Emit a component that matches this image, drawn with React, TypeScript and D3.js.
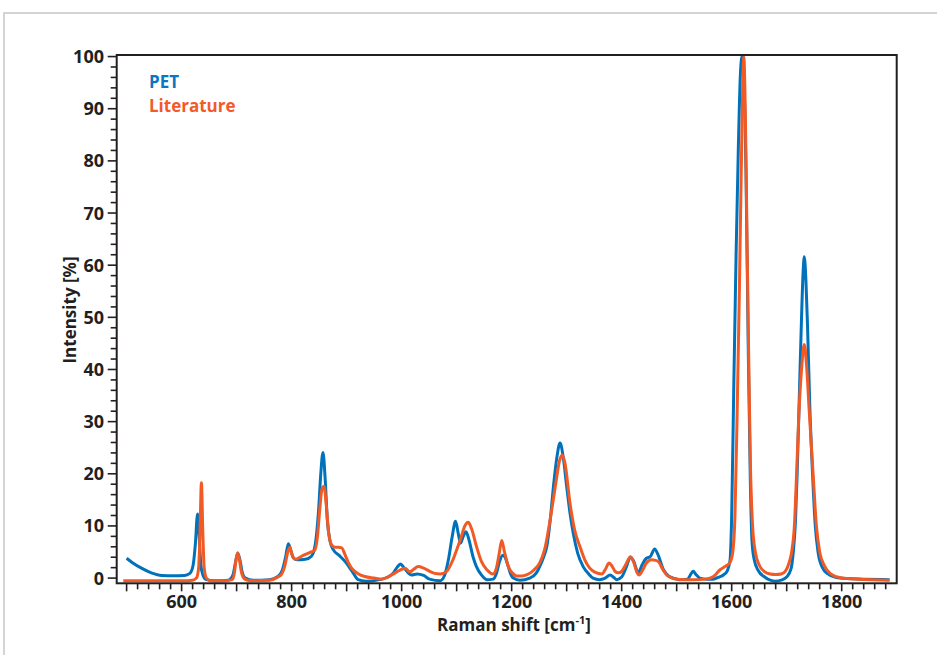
import React from "react";
import * as d3 from "d3";

// ---- data ----
const petShift = [500,510,527,545,564,585,605,615,621,625,629,632,635,639,645,660,685,693,698,702,706,710,716,730,760,775,783,789,794,798,803,810,825,836,843,849,853,857,861,865,870,876,887,897,910,921,935,960,975,985,992,998,1004,1012,1018,1028,1040,1051,1070,1078,1085,1092,1098,1103,1107,1112,1117,1122,1130,1136,1145,1155,1166,1172,1178,1184,1188,1193,1198,1203,1215,1233,1245,1251,1258,1264,1270,1276,1282,1288,1294,1300,1306,1312,1320,1330,1340,1348,1360,1370,1379,1386,1391,1400,1408,1416,1422,1430,1437,1445,1452,1460,1466,1476,1485,1494,1505,1520,1526,1530,1535,1542,1555,1566,1577,1585,1592,1597,1600,1604,1608,1612,1616,1619,1622,1626,1630,1634,1637,1641,1648,1660,1670,1680,1690,1700,1708,1712,1716,1719,1723,1727,1730,1732,1735,1738,1742,1747,1752,1757,1765,1775,1790,1810,1840,1887];
const petIntensity = [3.8,3.0,1.9,1.0,0.5,0.45,0.5,0.9,2.5,6.5,12.3,8,2.5,0.5,-0.3,-0.5,-0.4,0.5,3.0,4.8,3.5,1.2,0,-0.4,-0.3,0.3,1.5,4.0,6.6,5.5,3.9,3.5,3.6,4.2,6.5,13,20,24.1,19,11,7,5.4,4.3,3.2,1.3,-0.3,-0.6,-0.3,0.2,1.0,2.1,2.7,2.0,1.0,0.6,0.8,0.5,-0.2,-0.5,0.5,3.5,8,10.9,8.5,6.7,8.0,8.9,7.5,4,2.2,0.6,-0.3,-0.2,0.8,3.2,4.4,4.0,2.5,0.8,0,-0.4,0,1.0,2.2,4.0,6.1,11,17.6,23,25.9,23,17.6,12.5,8.6,4.8,2.2,0.8,0,-0.3,0,0.6,0.1,-0.3,0.2,2,4.0,3.2,1.0,2.5,3.8,4.1,5.6,4.5,1.6,0.4,0,-0.3,-0.2,0.8,1.3,0.7,0,-0.2,-0.2,0.2,0.6,1.4,3.4,12,38,62,82,97,100,96,78,45,18,7,3.5,1.5,0.2,-0.4,-0.6,-0.4,0.2,1.8,5,11,20,35,50,59,61.6,57,48,33,20,10,5,2,0.8,0.1,-0.1,-0.2,-0.3];

const litShift = [494,520,560,600,620,627,631,633.5,636,638.5,641,645,652,680,692,696,699,702,705,709,715,725,760,775,782,788,793,797,800,804,808,815,824,835,842,847,851,855,859,863,867,872,879,885,891,897,903,909,920,933,950,964,975,985,995,1006,1015,1022,1030,1040,1051,1060,1070,1082,1092,1100,1108,1115,1121,1127,1136,1145,1155,1166,1172,1177,1182,1187,1194,1202,1209,1218,1227,1240,1251,1260,1270,1280,1287,1292,1297,1306,1315,1324,1333,1342,1352,1364,1371,1377,1383,1388,1394,1400,1407,1416,1422,1427,1432,1438,1445,1454,1462,1468,1474,1482,1490,1500,1530,1553,1567,1579,1586,1591,1597,1602,1606,1610,1614,1618,1622,1625,1628,1631,1634,1638,1643,1650,1660,1670,1680,1690,1698,1704,1709,1714,1718,1722,1727,1732,1736,1741,1748,1754,1760,1768,1780,1800,1830,1887];
const litIntensity = [-0.5,-0.5,-0.5,-0.5,-0.4,0,2,9,18.3,9,2,0,-0.5,-0.5,-0.3,1,3.6,4.8,3.6,1,-0.2,-0.5,-0.4,0.2,0.8,2.5,5,5.9,4.8,3.8,3.6,4.0,4.5,5.0,5.3,8,13,17,17.6,14,9,6.5,5.9,5.9,5.8,4.5,3,1.9,0.9,0.3,0,-0.2,0.2,0.8,1.4,1.9,1.2,1.7,2.2,1.9,1.3,0.9,0.8,1.3,3.2,5.4,7.8,10,10.7,9.5,6.1,3.2,1.6,0.8,1.8,4.5,7.2,5,2.2,0.9,0.4,0.4,0.6,1.5,2.9,5.5,11.2,18,22.5,23.6,22,14.4,9,6.1,3.5,1.9,1.1,0.8,1.8,2.9,2.2,1.3,1.0,1.3,2.5,4.1,3.0,1.3,0.6,1.5,2.9,3.5,3.4,3.0,1.8,0.6,0.1,-0.2,-0.3,-0.2,0.3,1.6,2.1,2.4,3,5,12,32,55,82,100,88,64,42,22,10,5,2.5,1.2,0.8,0.7,0.8,1.4,2.8,5,10,20,31,40,44.8,41,32,20,10,5,2.5,0.8,0,-0.2,-0.4];

const xTickLabels = [600, 800, 1000, 1200, 1400, 1600, 1800];
const yTickLabels = [0, 10, 20, 30, 40, 50, 60, 70, 80, 90, 100];
const legendLabels = ["PET", "Literature"];

const W = 937, H = 655;
const TEXT = "#231f20";
const BLUE = "#0072bc";
const ORANGE = "#f15a24";
const FONT = "'Open Sans', sans-serif";

export default function App() {
  const x = d3.scaleLinear().domain([482, 1900]).range([116.7, 896.7]);
  const y = d3.scaleLinear().domain([-1, 100.3]).range([583.3, 55]);

  const line = d3
    .line<[number, number]>()
    .x((d) => x(d[0]))
    .y((d) => y(d[1]))
    .curve(d3.curveMonotoneX);

  const pet = petShift.map((s, i) => [s, petIntensity[i]] as [number, number]);
  const lit = litShift.map((s, i) => [s, litIntensity[i]] as [number, number]);

  const xTicks = d3.range(500, 1881, 20);
  const yTicks = d3.range(0, 101, 2);
  const x0 = x.range()[0];
  const yB = y.range()[0];

  return (
    <svg
      width={W}
      height={H}
      style={{ position: "absolute", left: 0, top: 0, background: "#fff" }}
      fontFamily={FONT}
    >
      <path d={`M4,${H} L4,13 L${W},13`} fill="none" stroke="#d4d4d4" strokeWidth={2} />

      {/* y ticks */}
      {yTicks.map((t) => (
        <line
          key={"yt" + t}
          x1={x0 - (t % 10 === 0 ? 9 : 6)}
          x2={x0}
          y1={y(t)}
          y2={y(t)}
          stroke={TEXT}
          strokeWidth={1.6}
        />
      ))}
      {yTickLabels.map((t) => (
        <text
          key={"yl" + t}
          x={104}
          y={y(t)}
          dy="0.36em"
          textAnchor="end"
          fontSize={18}
          fontWeight={700}
          fill={TEXT}
        >
          {t}
        </text>
      ))}

      {/* x ticks */}
      {xTicks.map((t) => (
        <line
          key={"xt" + t}
          x1={x(t)}
          x2={x(t)}
          y1={yB}
          y2={yB + (t % 100 === 0 ? 8 : 6)}
          stroke={TEXT}
          strokeWidth={1.6}
        />
      ))}
      {xTickLabels.map((t) => (
        <text
          key={"xl" + t}
          x={x(t)}
          y={607.5}
          textAnchor="middle"
          fontSize={18}
          fontWeight={700}
          fill={TEXT}
        >
          {t}
        </text>
      ))}

      {/* series */}
      <path d={line(pet) || ""} fill="none" stroke={BLUE} strokeWidth={3} strokeLinejoin="round" />
      <path d={line(lit) || ""} fill="none" stroke={ORANGE} strokeWidth={3} strokeLinejoin="round" />

      {/* frame */}
      <rect
        x={x0}
        y={55}
        width={x.range()[1] - x0}
        height={yB - 55}
        fill="none"
        stroke={TEXT}
        strokeWidth={2}
      />

      {/* legend */}
      <text x={149} y={88} fontSize={17} fontWeight={700} fill="#0b77c2">
        {legendLabels[0]}
      </text>
      <text x={149} y={112} fontSize={17} fontWeight={700} fill="#f15a29">
        {legendLabels[1]}
      </text>

      {/* axis titles */}
      <text x={514} y={631} textAnchor="middle" fontSize={17} fontWeight={700} fill={TEXT}>
        Raman shift [cm
        <tspan fontSize={11} dy={-7}>-1</tspan>
        <tspan dy={7}>]</tspan>
      </text>
      <text
        transform="translate(76,310) rotate(-90)"
        textAnchor="middle"
        fontSize={17}
        fontWeight={700}
        fill={TEXT}
      >
        Intensity [%]
      </text>
    </svg>
  );
}
